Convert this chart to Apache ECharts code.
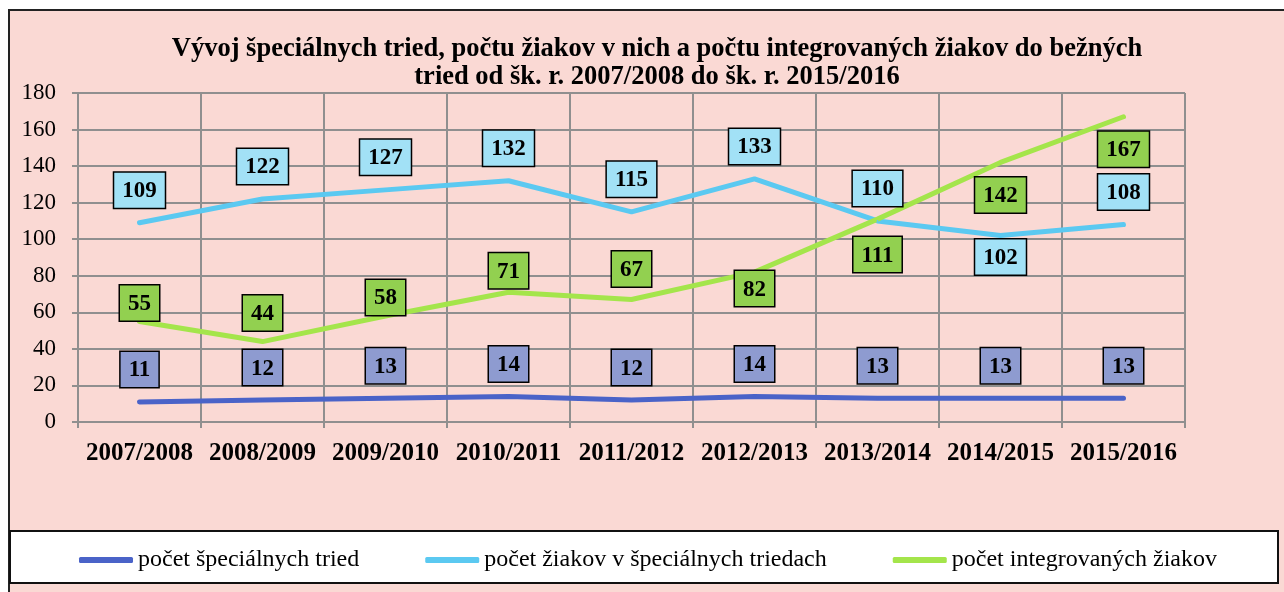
<!doctype html>
<html lang="sk">
<head>
    <meta charset="utf-8">
    <title>Vývoj špeciálnych tried</title>
    <script type="text/javascript" src="https://cdn.jsdelivr.net/npm/echarts@6/dist/echarts.min.js"></script>
    <style>
        html, body { margin: 0; padding: 0; background: #ffffff; }
        #main { width: 1284px; height: 592px; }
    </style>
</head>
<body>
<div id="main"></div>
<script type="text/javascript">
    // hodnoty odčítané z grafu
    var roky = ['2007/2008', '2008/2009', '2009/2010', '2010/2011', '2011/2012',
        '2012/2013', '2013/2014', '2014/2015', '2015/2016'];
    var specTriedy = [11, 12, 13, 14, 12, 14, 13, 13, 13];
    var ziaciSpec = [109, 122, 127, 132, 115, 133, 110, 102, 108];
    var integrovani = [55, 44, 58, 71, 67, 82, 111, 142, 167];

    var nazvy = ['počet špeciálnych tried', 'počet žiakov v špeciálnych triedach', 'počet integrovaných žiakov'];

    // umiestnenie popisov (nad / pod čiarou) podľa originálu
    var polohaSpec = ['top', 'top', 'top', 'top', 'top', 'top', 'top', 'top', 'top'];
    var polohaZiaci = ['top', 'top', 'top', 'top', 'top', 'top', 'top', 'bottom', 'top'];
    var polohaInteg = ['top', 'top', 'top', 'top', 'top', 'bottom', 'bottom', 'bottom', 'bottom'];
    var odstupSpec = [14, 14, 14, 14, 14, 14, 14, 14, 14];
    var odstupZiaci = [14, 14, 14, 14, 14, 14, 14, 3, 14];
    var odstupInteg = [0, 10, 0, 3, 12, -2, 17, 14, 14];

    var serif = '"Liberation Serif", "DejaVu Serif", serif';

    function labeled(values, pos, dist) {
        return values.map(function (v, i) {
            return {
                value: v,
                label: {position: pos[i], distance: dist[i]}
            };
        });
    }

    function labelStyle(bg) {
        return {
            show: true,
            fontFamily: serif,
            fontSize: 23,
            fontWeight: 'bold',
            color: '#000',
            lineHeight: 23,
            backgroundColor: bg,
            borderColor: '#000',
            borderWidth: 1.5,
            padding: [7, 8, 5, 8]
        };
    }

    function lineSeries(name, color, bg, values, pos, dist) {
        return {
            name: name,
            type: 'line',
            symbol: 'circle',
            symbolSize: 2,
            showSymbol: true,
            color: color,
            itemStyle: {color: color},
            lineStyle: {width: 5, cap: 'round', join: 'round', color: color},
            label: labelStyle(bg),
            data: labeled(values, pos, dist)
        };
    }

    var myChart = echarts.init(document.getElementById('main'));
    var option = {
        backgroundColor: '#ffffff',
        animation: false,
        graphic: [
            {
                type: 'rect', z: -10,
                shape: {x: 9, y: 10, width: 1300, height: 600},
                style: {fill: '#FAD9D4', stroke: '#222', lineWidth: 2}
            },
            {
                type: 'rect', z: -5,
                shape: {x: 10, y: 531, width: 1268, height: 52},
                style: {fill: '#ffffff', stroke: '#111', lineWidth: 2}
            }
        ],
        title: {
            text: 'Vývoj špeciálnych tried, počtu žiakov v nich a počtu integrovaných žiakov do bežných\ntried od šk. r. 2007/2008 do šk. r. 2015/2016',
            left: 652,
            top: 30,
            textAlign: 'center',
            textStyle: {
                fontFamily: serif,
                fontSize: 26.5,
                fontWeight: 'bold',
                color: '#000',
                lineHeight: 28
            }
        },
        legend: {
            top: 543,
            left: 74,
            itemWidth: 54,
            itemHeight: 6,
            itemGap: 66,
            textStyle: {fontFamily: serif, fontSize: 24, color: '#000'},
            data: nazvy.map(function (n) {
                return {name: n, icon: 'roundRect'};
            })
        },
        grid: {left: 78, right: 99, top: 93, bottom: 170, containLabel: false},
        xAxis: {
            type: 'category',
            data: roky,
            boundaryGap: true,
            axisLine: {lineStyle: {color: '#8f8f8f', width: 2}},
            axisTick: {show: true, length: 6, lineStyle: {color: '#8f8f8f', width: 2}},
            splitLine: {show: true, lineStyle: {color: '#8f8f8f', width: 2}},
            axisLabel: {
                fontFamily: serif, fontSize: 25, fontWeight: 'bold', color: '#000',
                margin: 19, interval: 0
            }
        },
        yAxis: {
            type: 'value',
            min: 0,
            max: 180,
            interval: 20,
            axisLine: {show: true, lineStyle: {color: '#8f8f8f', width: 2}},
            axisTick: {show: true, length: 6, lineStyle: {color: '#8f8f8f', width: 2}},
            splitLine: {show: true, lineStyle: {color: '#8f8f8f', width: 2}},
            axisLabel: {fontFamily: serif, fontSize: 23, color: '#000', margin: 22}
        },
        series: [
            lineSeries(nazvy[0], '#4A63C8', '#8E9BD0', specTriedy, polohaSpec, odstupSpec),
            lineSeries(nazvy[1], '#5BC9F1', '#A2E1F6', ziaciSpec, polohaZiaci, odstupZiaci),
            lineSeries(nazvy[2], '#A4E54B', '#92D050', integrovani, polohaInteg, odstupInteg)
        ]
    };

    option && myChart.setOption(option);
</script>
</body>
</html>
